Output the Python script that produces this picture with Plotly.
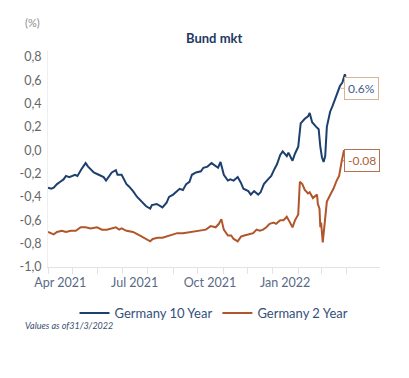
import plotly.graph_objects as go

# ---- data ----
dates_10y = [
    "2021-04-01", "2021-04-05", "2021-04-08", "2021-04-12", "2021-04-16", "2021-04-20",
    "2021-04-23", "2021-04-27", "2021-05-04", "2021-05-07", "2021-05-12", "2021-05-17",
    "2021-05-20", "2021-05-27", "2021-06-02", "2021-06-08", "2021-06-11", "2021-06-18",
    "2021-06-23", "2021-06-25", "2021-06-30", "2021-07-06", "2021-07-09", "2021-07-14",
    "2021-07-19", "2021-07-22", "2021-07-26", "2021-07-30", "2021-08-04", "2021-08-06",
    "2021-08-12", "2021-08-16", "2021-08-19", "2021-08-24", "2021-08-27", "2021-09-01",
    "2021-09-06", "2021-09-09", "2021-09-13", "2021-09-17", "2021-09-21", "2021-09-24",
    "2021-09-29", "2021-10-05", "2021-10-08", "2021-10-13", "2021-10-18", "2021-10-20",
    "2021-10-26", "2021-10-29", "2021-11-02", "2021-11-07", "2021-11-10", "2021-11-14",
    "2021-11-19", "2021-11-23", "2021-11-26", "2021-12-02", "2021-12-05", "2021-12-09",
    "2021-12-14", "2021-12-17", "2021-12-21", "2021-12-26", "2021-12-30", "2022-01-03",
    "2022-01-06", "2022-01-10", "2022-01-13", "2022-01-18", "2022-01-20", "2022-01-25",
    "2022-01-28", "2022-02-01", "2022-02-04", "2022-02-09", "2022-02-13", "2022-02-15",
    "2022-02-18", "2022-02-23", "2022-02-26", "2022-02-28", "2022-03-02", "2022-03-04",
    "2022-03-06", "2022-03-08", "2022-03-12", "2022-03-15", "2022-03-18", "2022-03-21",
    "2022-03-24", "2022-03-27", "2022-03-30", "2022-03-31",
]
yield_10y = [
    -0.32, -0.33, -0.32, -0.29, -0.27, -0.25,
    -0.22, -0.23, -0.21, -0.22, -0.16, -0.11,
    -0.14, -0.19, -0.21, -0.23, -0.26, -0.19,
    -0.17, -0.21, -0.21, -0.29, -0.31, -0.35,
    -0.40, -0.42, -0.45, -0.48, -0.50, -0.47,
    -0.46, -0.48, -0.49, -0.45, -0.40, -0.38,
    -0.35, -0.33, -0.34, -0.29, -0.27, -0.21,
    -0.19, -0.18, -0.15, -0.14, -0.11, -0.12,
    -0.15, -0.10, -0.21, -0.26, -0.25, -0.26,
    -0.23, -0.28, -0.33, -0.35, -0.38, -0.35,
    -0.38, -0.36, -0.29, -0.25, -0.22, -0.16,
    -0.12, -0.04, -0.01, -0.05, -0.02, -0.09,
    -0.03, 0.03, 0.23, 0.27, 0.29, 0.32,
    0.24, 0.20, 0.18, 0.03, -0.06, -0.10,
    -0.05, 0.20, 0.33, 0.38, 0.44, 0.50,
    0.55, 0.58, 0.65, 0.63,
]

dates_2y = [
    "2021-04-01", "2021-04-05", "2021-04-08", "2021-04-12", "2021-04-18", "2021-04-23",
    "2021-04-29", "2021-05-05", "2021-05-11", "2021-05-17", "2021-05-23", "2021-05-31",
    "2021-06-06", "2021-06-12", "2021-06-17", "2021-06-23", "2021-06-27", "2021-06-30",
    "2021-07-06", "2021-07-14", "2021-07-22", "2021-07-29", "2021-08-04", "2021-08-07",
    "2021-08-13", "2021-08-19", "2021-08-28", "2021-09-06", "2021-09-13", "2021-09-22",
    "2021-09-30", "2021-10-05", "2021-10-11", "2021-10-17", "2021-10-23", "2021-10-27",
    "2021-10-30", "2021-11-02", "2021-11-07", "2021-11-11", "2021-11-14", "2021-11-19",
    "2021-11-23", "2021-11-27", "2021-12-03", "2021-12-08", "2021-12-12", "2021-12-16",
    "2021-12-20", "2021-12-24", "2021-12-28", "2022-01-02", "2022-01-05", "2022-01-10",
    "2022-01-14", "2022-01-18", "2022-01-22", "2022-01-25", "2022-01-28", "2022-02-01",
    "2022-02-03", "2022-02-06", "2022-02-09", "2022-02-13", "2022-02-15", "2022-02-17",
    "2022-02-19", "2022-02-24", "2022-02-25", "2022-02-27", "2022-02-28", "2022-03-01",
    "2022-03-03", "2022-03-05", "2022-03-08", "2022-03-13", "2022-03-16", "2022-03-20",
    "2022-03-23", "2022-03-26", "2022-03-29", "2022-03-31",
]
yield_2y = [
    -0.70, -0.71, -0.72, -0.70, -0.69, -0.70,
    -0.69, -0.69, -0.66, -0.66, -0.67, -0.66,
    -0.68, -0.68, -0.67, -0.66, -0.68, -0.67,
    -0.69, -0.70, -0.73, -0.76, -0.78, -0.76,
    -0.75, -0.75, -0.73, -0.71, -0.71, -0.70,
    -0.69, -0.69, -0.68, -0.65, -0.66, -0.63,
    -0.59, -0.68, -0.73, -0.73, -0.76, -0.78,
    -0.74, -0.73, -0.72, -0.71, -0.68, -0.69,
    -0.68, -0.66, -0.63, -0.62, -0.63, -0.60,
    -0.60, -0.57, -0.62, -0.66, -0.60, -0.55,
    -0.27, -0.29, -0.34, -0.37, -0.36, -0.38,
    -0.41, -0.38, -0.46, -0.50, -0.66, -0.62,
    -0.79, -0.65, -0.44, -0.37, -0.33, -0.26,
    -0.22, -0.10, 0.00, -0.04,
]

y_tick_vals = [-1.0, -0.8, -0.6, -0.4, -0.2, 0.0, 0.2, 0.4, 0.6, 0.8]
y_tick_text = ["-1,0", "-0,8", "-0,6", "-0,4", "-0,2", "0,0", "0,2", "0,4", "0,6", "0,8"]
x_label_vals = ["2021-04-16", "2021-07-16", "2021-10-16", "2022-01-16"]
x_label_text = ["Apr 2021", "Jul 2021", "Oct 2021", "Jan 2022"]
month_ticks = ["2021-04-01", "2021-05-01", "2021-06-01", "2021-07-01", "2021-08-01",
               "2021-09-01", "2021-10-01", "2021-11-01", "2021-12-01", "2022-01-01",
               "2022-02-01", "2022-03-01", "2022-04-01"]

NAVY = "#1d3f6e"
BROWN = "#b0562a"
FONT = "Lato, Open Sans, sans-serif"

fig = go.Figure()
fig.add_trace(go.Scatter(x=dates_10y, y=yield_10y, mode="lines", name="Germany 10 Year",
                         line=dict(color=NAVY, width=2)))
fig.add_trace(go.Scatter(x=dates_2y, y=yield_2y, mode="lines", name="Germany 2 Year",
                         line=dict(color=BROWN, width=2)))

# the page body has an 8px margin, so the figure is made 8px smaller
fig.update_layout(
    width=401, height=370,
    margin=dict(l=40, r=29, t=43, b=111),
    paper_bgcolor="white", plot_bgcolor="white",
    font=dict(family=FONT, size=12, color="#666666"),
    showlegend=True,
    legend=dict(orientation="h", x=0.5, xanchor="center", y=-0.213, yanchor="middle",
                font=dict(size=13, color="#34507a"), itemwidth=30, tracegroupgap=0),
)
fig.update_xaxes(
    type="date", range=["2021-04-01", "2022-05-12"],
    tickmode="array", tickvals=x_label_vals, ticktext=x_label_text, ticks="",
    ticklabelstandoff=4,
    showgrid=False, showline=True, linecolor="#e3e3e3", linewidth=1,
    tickfont=dict(size=12.5, color="#5a6a85"),
    minor=dict(tickmode="array", tickvals=month_ticks, ticks="outside", ticklen=6,
               tickcolor="#e3e3e3", tickwidth=1, showgrid=False),
    zeroline=False,
)
fig.update_yaxes(
    range=[-1.0, 0.85], tickmode="array", tickvals=y_tick_vals, ticktext=y_tick_text,
    showgrid=False, zeroline=False, showline=True, linecolor="#efefef", linewidth=1,
    ticks="", tickfont=dict(size=12.5, color="#666666"), ticklabelstandoff=3,
)

fig.add_annotation(text="<b>Bund mkt</b>", xref="paper", yref="paper", x=0.5, y=1.06,
                   showarrow=False, font=dict(size=13, color="#1f3864"),
                   xanchor="center", yanchor="middle")
fig.add_annotation(text="(%)", xref="paper", yref="paper", x=-0.075, y=1.13,
                   showarrow=False, font=dict(size=11, color="#8c8c8c"),
                   xanchor="left", yanchor="middle")
fig.add_annotation(text="<i>Values as of31/3/2022</i>", xref="paper", yref="paper",
                   x=-0.075, y=-0.269, showarrow=False,
                   font=dict(size=9, color="#3c4f70"), xanchor="left", yanchor="middle")

fig.add_annotation(text="0.6%", x="2022-03-25", y=0.53, ax=21, ay=0,
                   showarrow=True, arrowhead=0, arrowwidth=1, arrowcolor="#d8b48f",
                   bordercolor="#d8b48f", borderwidth=1, borderpad=3, bgcolor="white",
                   font=dict(size=12, color="#3e5c8a"))
fig.add_annotation(text="-0.08", x="2022-03-25", y=-0.09, ax=21, ay=0,
                   showarrow=True, arrowhead=0, arrowwidth=1, arrowcolor="#b8714d",
                   bordercolor="#b8714d", borderwidth=1, borderpad=3, bgcolor="white",
                   font=dict(size=12, color="#b0603a"))

fig.write_html("out.html")
